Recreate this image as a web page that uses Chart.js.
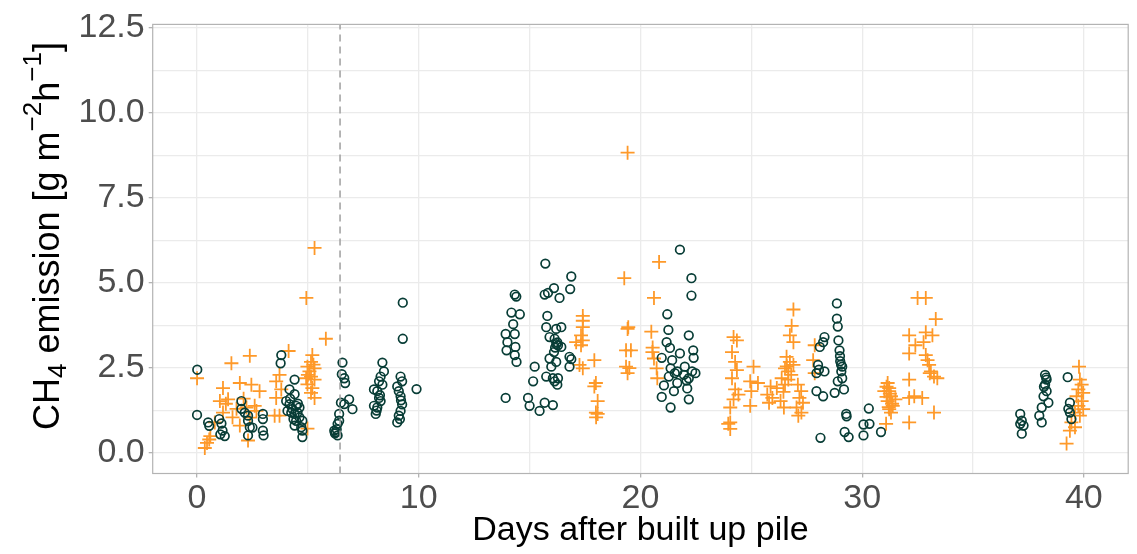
<!DOCTYPE html>
<html>
<head>
<meta charset="utf-8">
<script src="https://cdn.jsdelivr.net/npm/chart.js@4"></script>
<style>
  html, body { margin: 0; padding: 0; background: #fff; }
  #wrap { width: 1137px; height: 554px; }
</style>
</head>
<body>
<div id="wrap"><canvas id="chart"></canvas></div>
<script>
// open circles (dark green)
const circleDays = [
  0.01, 0.0, 0.5, 0.55, 1.0, 1.1, 1.15, 1.25, 1.05,
  2.0, 2.0, 2.15, 2.3, 2.3, 2.38, 2.3, 2.97, 2.97, 2.97, 3.0, 2.5,
  3.8, 3.77, 4.4, 4.17, 4.4, 4.02, 4.17, 4.47, 4.62, 4.08, 4.25, 4.4, 4.53, 4.62, 4.75, 4.47, 4.4, 4.7, 4.75, 4.75, 4.3, 4.55, 4.2, 4.35,
  6.56, 6.53, 6.64, 6.68, 6.49, 6.86, 7.01, 6.64, 6.41, 6.34, 6.26, 6.19, 6.34, 6.41, 6.3, 6.22,
  8.36, 8.43, 8.28, 8.21, 7.98, 8.13, 8.21, 7.98, 8.13, 8.06, 8.28, 8.36, 8.1, 8.25,
  9.28, 9.28, 9.18, 9.25, 9.03, 9.1, 9.18, 9.25, 9.18, 9.1, 9.03, 9.9, 9.2, 9.15,
  14.33, 14.4, 14.18, 14.56, 14.26, 14.33, 13.92, 14.0, 14.36, 13.96, 14.33, 14.41, 13.92, 14.93, 15.0, 15.16, 15.23, 15.45,
  15.71, 15.8, 15.68, 15.83, 16.1, 16.35, 15.75, 15.9, 16.2, 16.43, 16.13, 16.28, 16.43, 16.1, 15.9, 16.2, 15.98, 15.75,
  16.05, 16.28, 16.13, 16.25, 15.68, 16.05, 16.88, 16.83, 16.8, 16.88, 16.8, 16.2, 16.25, 16.15,
  21.78, 22.3, 22.3, 21.21, 21.26, 22.18, 21.18, 21.33, 22.38, 21.78, 22.4, 20.96, 21.43, 22.0, 21.36, 21.66, 22.33, 22.48,
  21.28, 21.96, 22.18, 21.66, 22.08, 21.06, 22.11, 21.51, 20.96, 22.18, 21.36, 21.55,
  28.09, 28.3, 28.24, 28.01, 28.3, 27.94, 27.94, 28.24, 28.76, 28.86, 28.86, 28.9, 28.93, 28.98, 29.01, 29.1, 29.06, 29.1,
  28.9, 29.18, 28.12, 29.28, 29.3, 29.21, 29.39, 30.06, 30.33, 30.06, 30.3, 30.85, 28.05, 29.0, 29.05,
  37.13, 37.2, 37.28, 37.2, 37.13, 38.25, 38.32, 38.25, 38.32, 38.18, 38.4, 38.1, 37.99, 38.1, 38.3, 38.2,
  39.27, 39.37, 39.37, 39.44, 39.3
];
const circleCH4 = [
  2.45, 1.12, 0.9, 0.8, 1.0, 0.87, 0.66, 0.5, 0.55,
  1.53, 1.3, 1.19, 1.1, 0.95, 0.76, 0.52, 1.15, 1.0, 0.66, 0.52, 0.75,
  2.88, 2.64, 2.16, 1.87, 1.73, 1.53, 1.44, 1.39, 1.34, 1.24, 1.19, 1.15, 1.19, 1.05, 0.95, 0.95, 0.81, 0.76, 0.66, 0.47, 1.3, 1.45, 1.6, 1.0,
  2.66, 2.32, 2.2, 2.06, 1.48, 1.58, 1.29, 1.44, 1.15, 0.86, 0.62, 0.66, 0.52, 0.95, 0.7, 0.58,
  2.66, 2.4, 2.25, 2.11, 1.87, 1.82, 1.62, 1.39, 1.34, 1.15, 1.53, 2.01, 1.25, 1.7,
  4.42, 3.36, 2.25, 2.11, 1.96, 1.82, 1.67, 1.43, 1.24, 1.1, 0.9, 1.88, 1.55, 1.0,
  4.66, 4.6, 4.13, 4.08, 3.79, 3.5, 3.5, 3.26, 3.12, 3.02, 2.88, 2.68, 1.62, 1.62, 1.39, 2.11, 2.54, 1.24,
  5.57, 4.03, 4.66, 4.71, 4.85, 4.56, 3.7, 3.41, 3.65, 3.7, 3.36, 3.17, 3.12, 2.97, 2.78, 2.68, 2.54, 2.25,
  2.2, 2.2, 2.11, 2.01, 1.48, 1.41, 5.19, 4.82, 2.83, 2.76, 2.54, 3.2, 3.25, 3.1,
  5.98, 5.14, 4.63, 4.08, 3.62, 3.46, 3.26, 3.09, 3.02, 2.93, 2.8, 2.8, 2.73, 2.54, 2.49, 2.4, 2.4, 2.35,
  2.25, 2.3, 2.2, 2.06, 2.13, 1.99, 1.9, 1.82, 1.65, 1.58, 1.34, 2.35,
  3.12, 3.41, 3.26, 2.59, 2.4, 2.35, 1.82, 1.67, 1.77, 4.4, 3.95, 3.72, 3.31, 3.02, 2.7, 2.54, 2.4, 2.2,
  2.11, 1.87, 0.45, 1.15, 1.08, 0.62, 0.47, 0.84, 0.86, 0.52, 1.31, 0.62, 2.45, 2.85, 2.6,
  1.15, 0.95, 0.81, 0.57, 0.86, 2.3, 2.16, 2.01, 1.82, 1.67, 1.48, 1.34, 1.1, 0.9, 2.22, 1.95,
  2.23, 1.48, 1.19, 1.0, 1.3
];
// plus signs (orange)
const crossDays = [
  0.0, 0.35, 0.45, 0.55, 0.6, 1.55, 2.38, 1.17, 1.93, 2.45, 2.82, 1.03, 1.4, 1.78, 2.23, 2.6, 1.17, 1.6, 2.38, 2.68, 1.93, 2.3, 1.3, 2.1, 0.8,
  3.57, 3.72, 3.8, 3.57, 3.72, 3.5, 4.13, 4.93, 5.3, 5.81, 5.2, 5.14, 4.98, 5.3, 5.07, 5.14, 4.92, 5.3, 4.98, 5.2, 5.14, 5.3, 4.98, 5.0, 5.25,
  17.4, 17.4, 17.4, 17.32, 17.4, 17.1, 17.32, 17.25, 17.4, 17.92, 17.99, 17.92, 18.07, 17.99, 18.07, 18.0,
  19.42, 19.27, 19.42, 19.35, 19.57, 19.35, 19.42, 19.45, 19.5, 20.84, 20.61, 20.49, 20.54, 20.61, 20.73, 20.76, 20.55,
  24.2, 24.35, 24.13, 24.27, 24.35, 24.13, 25.1, 24.27, 24.42, 24.2, 24.05, 24.95, 25.0, 24.95, 24.05, 24.05, 23.96, 25.3,
  26.9, 26.82, 26.74, 26.9, 26.59, 26.74, 26.9, 26.52, 26.67, 26.37, 26.67, 26.52, 26.15, 25.87, 25.72, 25.95, 25.8, 26.32,
  26.47, 27.1, 27.25, 27.17, 27.33, 27.04, 27.26, 27.12, 27.86, 27.79, 27.86, 26.8, 26.6, 26.45,
  31.22, 31.15, 31.22, 31.3, 31.15, 31.38, 31.22, 31.3, 31.08, 31.0, 31.5, 31.1, 31.25, 31.35, 31.2, 31.1,
  32.12, 32.12, 32.35, 32.71, 32.12, 33.24, 32.5, 32.87, 33.32, 32.12, 32.87, 33.17, 32.4, 32.77, 32.12, 32.87, 32.95, 33.02,
  33.1, 33.24, 33.39, 33.05,
  39.78, 39.82, 39.9, 39.75, 39.97, 39.67, 39.9, 39.75, 39.97, 39.6, 39.82, 39.44, 39.6, 39.37, 39.22
];
const crossCH4 = [
  2.2, 0.15, 0.3, 0.4, 0.5, 2.64, 2.86, 1.91, 2.06, 2.01, 1.82, 1.53, 1.58, 1.3, 1.34, 1.39, 1.19, 1.05, 1.04, 1.24, 0.81, 0.37, 1.45, 1.6, 0.9,
  2.11, 2.3, 1.87, 1.62, 1.1, 1.1, 3.0, 4.56, 6.03, 3.36, 2.88, 2.68, 2.54, 2.49, 2.4, 2.25, 2.2, 2.16, 2.02, 1.91, 1.77, 1.62, 0.72, 2.3, 2.6,
  4.03, 3.89, 3.7, 3.46, 3.31, 3.26, 3.17, 2.59, 2.49, 2.73, 2.06, 1.96, 1.53, 1.19, 1.15, 1.05,
  8.83, 5.14, 3.65, 3.02, 3.02, 2.54, 2.35, 3.7, 2.5, 5.62, 4.56, 3.57, 2.97, 2.78, 2.49, 2.2, 3.1,
  3.41, 3.31, 2.97, 2.68, 2.44, 2.2, 2.54, 1.87, 1.72, 1.58, 1.34, 2.11, 1.82, 1.39, 0.9, 0.71, 0.86, 2.06,
  4.22, 3.74, 3.46, 3.26, 2.83, 2.68, 2.59, 2.49, 2.4, 2.2, 2.16, 2.01, 1.91, 1.96, 1.72, 1.62, 1.48, 1.53,
  1.34, 2.01, 1.82, 1.62, 1.48, 1.34, 1.19, 1.1, 3.17, 2.73, 2.35, 2.3, 2.55, 1.8,
  1.91, 2.06, 1.82, 1.67, 1.53, 1.39, 1.29, 1.19, 0.86, 1.82, 1.58, 1.95, 1.75, 1.45, 1.35, 1.65,
  2.16, 1.62, 1.67, 1.62, 0.9, 1.19, 4.56, 4.56, 3.94, 3.46, 3.55, 3.46, 3.17, 3.26, 2.93, 2.88, 2.73, 2.59,
  2.4, 2.25, 2.2, 2.35,
  2.54, 2.16, 2.01, 1.87, 1.77, 1.67, 1.53, 1.39, 1.29, 1.19, 1.1, 0.9, 0.76, 0.66, 0.28
];
const pileDay = 6.45;
const yRange = [-0.6, 12.6];
const xRange = [-2, 42];
const xBreaks = [0, 5, 10, 15, 20, 25, 30, 35, 40];
const xTickLabels = ['0', '', '10', '', '20', '', '30', '', '40'];
const yBreaks = [0, 1.25, 2.5, 3.75, 5, 6.25, 7.5, 8.75, 10, 11.25, 12.5];
const yTickLabels = ['0.0', '', '2.5', '', '5.0', '', '7.5', '', '10.0', '', '12.5'];
const yTitleParts = [['CH', 0], ['4', -1], [' emission [g m', 0], ['\u22122', 1], ['h', 0], ['\u22121', 1], [']', 0]];

const FONT = '"Liberation Sans", Arial, sans-serif';

const pairs = (xs, ys) => xs.map((x, i) => ({ x: x, y: ys[i] }));

const panelFrame = {
  id: 'panelFrame',
  afterDatasetsDraw(chart) {
    const a = chart.chartArea, ctx = chart.ctx;
    ctx.save();
    ctx.strokeStyle = '#b3b3b3';
    ctx.lineWidth = 1.2;
    ctx.strokeRect(a.left, a.top, a.right - a.left, a.bottom - a.top);
    ctx.restore();
  }
};

const yTitle = {
  id: 'yTitle',
  afterDraw(chart) {
    const ctx = chart.ctx;
    const big = 36, small = 26;
    ctx.save();
    ctx.translate(59, 236);
    ctx.rotate(-Math.PI / 2);
    ctx.fillStyle = '#000';
    ctx.textBaseline = 'alphabetic';
    let total = 0;
    yTitleParts.forEach(p => {
      ctx.font = (p[1] ? small : big) + 'px ' + FONT;
      total += ctx.measureText(p[0]).width;
    });
    let x = -total / 2;
    yTitleParts.forEach(p => {
      ctx.font = (p[1] ? small : big) + 'px ' + FONT;
      const dy = p[1] === 1 ? -18 : (p[1] === -1 ? 7 : 0);
      ctx.fillText(p[0], x, dy);
      x += ctx.measureText(p[0]).width;
    });
    ctx.restore();
  }
};

new Chart(document.getElementById('chart'), {
  type: 'scatter',
  data: {
    datasets: [
      {
        type: 'line',
        data: [{ x: pileDay, y: yRange[0] }, { x: pileDay, y: yRange[1] }],
        borderColor: '#9e9e9e',
        borderWidth: 1.5,
        borderDash: [7, 5],
        pointRadius: 0,
        order: 0
      },
      {
        data: pairs(circleDays, circleCH4),
        pointStyle: 'circle',
        pointRadius: 4.3,
        borderWidth: 1.7,
        borderColor: '#083d36',
        backgroundColor: 'rgba(0,0,0,0)',
        order: 1
      },
      {
        data: pairs(crossDays, crossCH4),
        pointStyle: 'cross',
        pointRadius: 7,
        borderWidth: 1.8,
        borderColor: '#fe9929',
        backgroundColor: '#fe9929',
        order: 2
      }
    ]
  },
  options: {
    responsive: true,
    maintainAspectRatio: false,
    animation: false,
    layout: { padding: { top: 15.5, right: 3, left: 0, bottom: 0 } },
    plugins: { legend: { display: false }, tooltip: { enabled: false } },
    scales: {
      x: {
        type: 'linear',
        min: xRange[0],
        max: xRange[1],
        afterBuildTicks: (scale) => { scale.ticks = xBreaks.map(v => ({ value: v })); },
        afterFit: (scale) => { scale.height = 80.5; },
        border: { display: false },
        grid: {
          color: '#ebebeb',
          lineWidth: 1.3,
          tickLength: 4,
          tickColor: (c) => (c.tick && xTickLabels[xBreaks.indexOf(c.tick.value)] ? '#b3b3b3' : 'rgba(0,0,0,0)')
        },
        ticks: {
          autoSkip: false,
          maxRotation: 0,
          padding: 1,
          color: '#4d4d4d',
          font: { family: FONT, size: 34 },
          callback: (v) => xTickLabels[xBreaks.indexOf(v)] || ''
        },
        title: {
          display: true,
          text: 'Days after built up pile',
          color: '#000',
          font: { family: FONT, size: 34 },
          padding: { top: 0, bottom: 3 }
        }
      },
      y: {
        type: 'linear',
        min: yRange[0],
        max: yRange[1],
        afterBuildTicks: (scale) => { scale.ticks = yBreaks.map(v => ({ value: v })); },
        afterFit: (scale) => { scale.width = 152.7; },
        border: { display: false },
        grid: {
          color: '#ebebeb',
          lineWidth: 1.3,
          tickLength: 4,
          tickColor: (c) => (c.tick && yTickLabels[yBreaks.indexOf(c.tick.value)] ? '#b3b3b3' : 'rgba(0,0,0,0)')
        },
        ticks: {
          autoSkip: false,
          padding: 4,
          color: '#4d4d4d',
          font: { family: FONT, size: 34 },
          callback: (v) => yTickLabels[yBreaks.indexOf(v)] || ''
        }
      }
    }
  },
  plugins: [panelFrame, yTitle]
});
</script>
</body>
</html>
